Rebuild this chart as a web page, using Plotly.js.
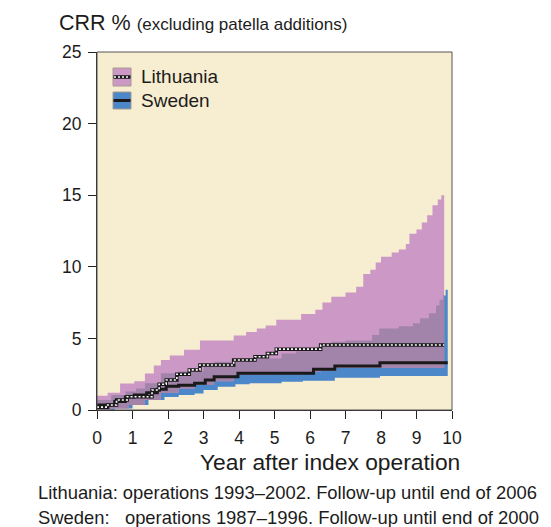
<!DOCTYPE html>
<html>
<head>
<meta charset="utf-8">
<script src="https://cdn.plot.ly/plotly-3.0.1.min.js"></script>
<style>
  html, body { margin: 0; padding: 0; background: #ffffff; }
  #chart { width: 551px; height: 527px; }
</style>
</head>
<body>
<div id="chart"></div>
<script>
// ---- Data (years after index operation, CRR %) ----
const xTicks = [0, 1, 2, 3, 4, 5, 6, 7, 8, 9, 10];
const yTicks = [0, 5, 10, 15, 20, 25];

// Lithuania: estimate and 95% band (step functions)
const ltEstX = [0, 0.3, 0.55, 0.85, 1.55, 1.75, 1.95, 2.25, 2.6, 2.9, 3.85, 4.45, 4.8, 5.05, 6.3, 9.78];
const ltEst  = [0.2, 0.35, 0.7, 0.93, 1.4, 1.8, 2.1, 2.5, 2.8, 3.14, 3.49, 3.72, 3.95, 4.25, 4.54, 4.54];
const ltHiX = [0, 0.3, 0.65, 1.05, 1.35, 1.6, 1.8, 2.05, 2.45, 2.9, 3.85, 4.2, 4.5, 4.75, 5.05, 5.75, 6.15, 6.35, 6.6, 7.0, 7.3, 7.5, 7.7, 7.85, 8.0, 8.3, 8.5, 8.7, 8.8, 9.0, 9.15, 9.3, 9.45, 9.6, 9.7, 9.78];
const ltHi  = [1.0, 1.2, 1.85, 2.0, 2.55, 3.1, 3.5, 3.8, 4.2, 4.85, 5.2, 5.45, 5.7, 5.9, 6.3, 6.7, 7.0, 7.5, 7.9, 8.2, 8.6, 9.5, 9.8, 10.3, 10.7, 11.0, 11.2, 11.6, 12.3, 12.6, 13.1, 13.6, 14.3, 14.7, 15.0, 15.1];
const ltLoX = [0, 0.4, 0.9, 1.35, 1.8, 2.3, 2.75, 3.3, 3.85, 5.0, 5.85, 6.3, 6.75, 9.78];
const ltLo  = [0.0, 0.1, 0.35, 0.7, 1.2, 1.5, 1.75, 2.0, 2.45, 2.5, 2.65, 2.75, 2.95, 2.95];

// Sweden: estimate and 95% band (step functions)
const seEstX = [0, 0.5, 0.8, 1.05, 1.4, 1.7, 1.95, 2.3, 2.75, 3.05, 3.3, 3.97, 6.1, 6.7, 7.97, 9.88];
const seEst  = [0.35, 0.6, 0.9, 1.05, 1.2, 1.45, 1.65, 1.72, 1.86, 2.1, 2.32, 2.56, 2.84, 3.07, 3.3, 3.3];
const seHiX = [0, 0.4, 0.8, 1.1, 1.35, 1.8, 2.3, 3.0, 3.3, 4.25, 5.2, 5.6, 6.2, 6.6, 7.0, 7.75, 7.95, 8.5, 8.9, 9.1, 9.35, 9.55, 9.65, 9.75, 9.82, 9.88];
const seHi  = [0.7, 1.05, 1.3, 1.5, 1.86, 2.56, 2.7, 3.14, 3.37, 3.6, 3.95, 4.1, 4.42, 4.77, 4.85, 5.23, 5.7, 5.85, 6.05, 6.4, 6.75, 7.3, 7.7, 8.0, 8.4, 8.8];
const seLoX = [0, 0.5, 1.0, 1.45, 1.9, 2.3, 2.75, 3.0, 3.4, 3.9, 4.3, 5.2, 5.8, 6.7, 7.97, 9.88];
const seLo  = [0.0, 0.1, 0.35, 0.7, 0.9, 1.05, 1.16, 1.4, 1.63, 1.8, 1.86, 1.98, 2.05, 2.25, 2.37, 2.37];

const seriesNames = ['Lithuania', 'Sweden'];

// ---- Styles ----
const C_BG = '#f7edd1';
const C_PINK = '#cc98c5';
const C_BLUE = '#4b87c9';
const C_OVER = '#a283aa';
const C_TXT = '#1c1c1c';

// step evaluation for overlap region
function stepAt(xs, ys, x) {
  let v = ys[0];
  for (let i = 0; i < xs.length; i++) { if (xs[i] <= x + 1e-9) v = ys[i]; }
  return v;
}
const xEndCommon = Math.min(ltHiX[ltHiX.length - 1], seHiX[seHiX.length - 1]);
const gridSet = new Set([].concat(ltHiX, ltLoX, seHiX, seLoX).filter(v => v <= xEndCommon));
gridSet.add(xEndCommon);
const ovX = Array.from(gridSet).sort((a, b) => a - b);
const ovLo = ovX.map(x => Math.max(stepAt(ltLoX, ltLo, x), stepAt(seLoX, seLo, x)));
const ovHi = ovX.map((x, i) => Math.max(ovLo[i], Math.min(stepAt(ltHiX, ltHi, x), stepAt(seHiX, seHi, x))));

function band(xl, yl, xh, yh, color) {
  return [
    { x: xl, y: yl, type: 'scatter', mode: 'lines', line: { width: 0, shape: 'hv' }, showlegend: false, hoverinfo: 'skip' },
    { x: xh, y: yh, type: 'scatter', mode: 'lines', line: { width: 0, shape: 'hv' }, fill: 'tonexty', fillcolor: color, showlegend: false, hoverinfo: 'skip' }
  ];
}

const traces = []
  .concat(band(seLoX, seLo, seHiX, seHi, C_BLUE))
  .concat(band(ltLoX, ltLo, ltHiX, ltHi, C_PINK))
  .concat(band(ovX, ovLo, ovX, ovHi, C_OVER))
  .concat([
    { x: seEstX, y: seEst, name: seriesNames[1], type: 'scatter', mode: 'lines', line: { color: '#1a1a1a', width: 3, shape: 'hv' }, showlegend: false },
    { x: ltEstX, y: ltEst, name: seriesNames[0], type: 'scatter', mode: 'lines', line: { color: '#1a1a1a', width: 3.5, shape: 'hv' }, showlegend: false },
    { x: ltEstX, y: ltEst, type: 'scatter', mode: 'lines', line: { color: '#ffffff', width: 1.6, shape: 'hv', dash: '2px,2px' }, showlegend: false, hoverinfo: 'skip' }
  ]);

// plot area in px: left 97, right 452, top 52, bottom 410
const PL = 97, PR = 452, PT = 52, PB = 410;
const px2x = p => (p - PL) / (PR - PL);
const px2y = p => (PB - p) / (PB - PT);

const FONT = 'Liberation Sans, Arial, Helvetica, sans-serif';

const layout = {
  width: 551, height: 527,
  margin: { l: PL, r: 551 - PR, t: PT, b: 527 - PB, pad: 0 },
  paper_bgcolor: '#ffffff',
  plot_bgcolor: C_BG,
  showlegend: false,
  font: { family: FONT, color: C_TXT },
  xaxis: {
    range: [0, 10], tickvals: xTicks, ticktext: xTicks.map(String),
    showgrid: false, zeroline: false, showline: true, linecolor: '#222', linewidth: 1,
    ticks: 'outside', ticklen: 8, tickcolor: '#222', tickwidth: 1,
    tickfont: { size: 17.5, color: C_TXT, family: FONT }, ticklabelstandoff: 4,
    fixedrange: true
  },
  yaxis: {
    range: [0, 25], tickvals: yTicks, ticktext: yTicks.map(String),
    showgrid: false, zeroline: false, showline: true, linecolor: '#222', linewidth: 1,
    ticks: 'outside', ticklen: 8, tickcolor: '#222', tickwidth: 1,
    tickfont: { size: 17.5, color: C_TXT, family: FONT }, ticklabelstandoff: 3,
    fixedrange: true
  },
  shapes: [
    { type: 'rect', xref: 'paper', yref: 'paper', x0: 0, x1: 1, y0: 0, y1: 1, line: { color: '#555', width: 1 }, layer: 'above' },
    // legend swatches
    { type: 'rect', xref: 'paper', yref: 'paper', x0: px2x(113), x1: px2x(131), y0: px2y(86), y1: px2y(68), fillcolor: C_PINK, line: { color: '#a89c8c', width: 1 }, layer: 'above' },
    { type: 'line', xref: 'paper', yref: 'paper', x0: px2x(113.5), x1: px2x(130.5), y0: px2y(77), y1: px2y(77), line: { color: '#1a1a1a', width: 3.5 }, layer: 'above' },
    { type: 'line', xref: 'paper', yref: 'paper', x0: px2x(114), x1: px2x(130), y0: px2y(77), y1: px2y(77), line: { color: '#ffffff', width: 1.6, dash: '2px,2px' }, layer: 'above' },
    { type: 'rect', xref: 'paper', yref: 'paper', x0: px2x(113), x1: px2x(131), y0: px2y(109), y1: px2y(92), fillcolor: C_BLUE, line: { color: '#a89c8c', width: 1 }, layer: 'above' },
    { type: 'line', xref: 'paper', yref: 'paper', x0: px2x(113.5), x1: px2x(130.5), y0: px2y(100.5), y1: px2y(100.5), line: { color: '#1a1a1a', width: 3 }, layer: 'above' }
  ],
  annotations: [
    { text: seriesNames[0], xref: 'paper', yref: 'paper', x: px2x(139), y: px2y(77), xanchor: 'left', yanchor: 'middle', showarrow: false, font: { size: 19, color: C_TXT, family: FONT } },
    { text: seriesNames[1], xref: 'paper', yref: 'paper', x: px2x(139), y: px2y(100.5), xanchor: 'left', yanchor: 'middle', showarrow: false, font: { size: 19, color: C_TXT, family: FONT } },
    { text: 'CRR % <span style="font-size:17px">(excluding patella additions)</span>', xref: 'paper', yref: 'paper', x: px2x(57), y: px2y(23), xanchor: 'left', yanchor: 'middle', showarrow: false, font: { size: 21.5, color: C_TXT, family: FONT } },
    { text: 'Year after index operation', xref: 'paper', yref: 'paper', x: px2x(330), y: px2y(462), xanchor: 'center', yanchor: 'middle', showarrow: false, font: { size: 22.8, color: C_TXT, family: FONT } },
    { text: 'Lithuania: operations 1993–2002. Follow-up until end of 2006', xref: 'paper', yref: 'paper', x: px2x(36), y: px2y(492), xanchor: 'left', yanchor: 'middle', showarrow: false, font: { size: 18.4, color: C_TXT, family: FONT } },
    { text: 'Sweden:&nbsp;&nbsp; operations 1987–1996. Follow-up until end of 2000', xref: 'paper', yref: 'paper', x: px2x(36), y: px2y(517), xanchor: 'left', yanchor: 'middle', showarrow: false, font: { size: 18.4, color: C_TXT, family: FONT } }
  ]
};

Plotly.newPlot('chart', traces, layout, { staticPlot: true, displayModeBar: false });
</script>
</body>
</html>
